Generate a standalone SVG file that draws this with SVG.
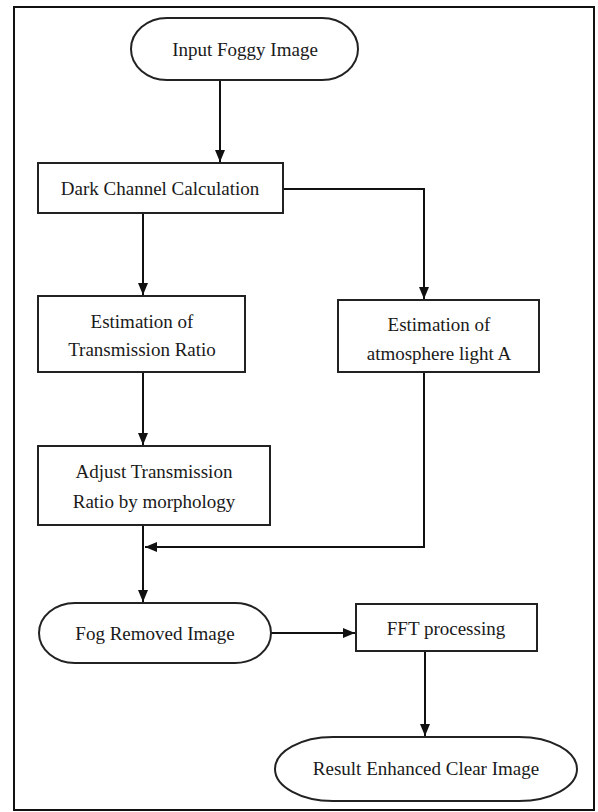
<svg xmlns="http://www.w3.org/2000/svg" width="598" height="812" viewBox="0 0 598 812">
<style>
.box{fill:#fff;stroke:#222;stroke-width:2}
.lbl{font-family:"Liberation Serif","Times New Roman",serif;font-size:19px;fill:#1a1a1a;text-anchor:middle}
.con{fill:none;stroke:#111;stroke-width:2}
</style>
<defs>
<marker id="ah" markerUnits="userSpaceOnUse" markerWidth="13" markerHeight="11" refX="12" refY="5" orient="auto">
<path d="M0,0 L12,5 L0,10 z" fill="#111"/>
</marker>
</defs>
<rect x="14" y="7" width="580" height="803" fill="#fff" stroke="#111" stroke-width="2"/>
<g id="connectors">
<path class="con" d="M220,80 V162" marker-end="url(#ah)"/>
<path class="con" d="M143,213 V295" marker-end="url(#ah)"/>
<path class="con" d="M283,189 H424 V299" marker-end="url(#ah)"/>
<path class="con" d="M143,372 V445" marker-end="url(#ah)"/>
<path class="con" d="M424,372 V547 H145" marker-end="url(#ah)"/>
<path class="con" d="M143,525 V602" marker-end="url(#ah)"/>
<path class="con" d="M271,633 H355" marker-end="url(#ah)"/>
<path class="con" d="M425,651 V736" marker-end="url(#ah)"/>
</g>
<g id="input">
<rect class="box" x="131" y="18" width="227" height="62" rx="36" ry="31"/>
<text class="lbl" x="245" y="56">Input Foggy Image</text>
</g>
<g id="dark">
<rect class="box" x="38" y="163" width="245" height="50"/>
<text class="lbl" x="160" y="195">Dark Channel Calculation</text>
</g>
<g id="transmission">
<rect class="box" x="38" y="296" width="207" height="76"/>
<text class="lbl" x="142" y="328">Estimation of</text>
<text class="lbl" x="142" y="356">Transmission Ratio</text>
</g>
<g id="atmosphere">
<rect class="box" x="338" y="300" width="201" height="72"/>
<text class="lbl" x="439" y="331">Estimation of</text>
<text class="lbl" x="439" y="360">atmosphere light A</text>
</g>
<g id="adjust">
<rect class="box" x="38" y="446" width="232" height="79"/>
<text class="lbl" x="154" y="478">Adjust Transmission</text>
<text class="lbl" x="154" y="508">Ratio by morphology</text>
</g>
<g id="fogremoved">
<rect class="box" x="39" y="603" width="232" height="60" rx="36" ry="30"/>
<text class="lbl" x="155" y="640">Fog Removed Image</text>
</g>
<g id="fft">
<rect class="box" x="356" y="604" width="181" height="47"/>
<text class="lbl" x="446" y="635">FFT processing</text>
</g>
<g id="result">
<rect class="box" x="275" y="737" width="302" height="64" rx="58" ry="32"/>
<text class="lbl" x="426" y="775">Result Enhanced Clear Image</text>
</g>
</svg>
